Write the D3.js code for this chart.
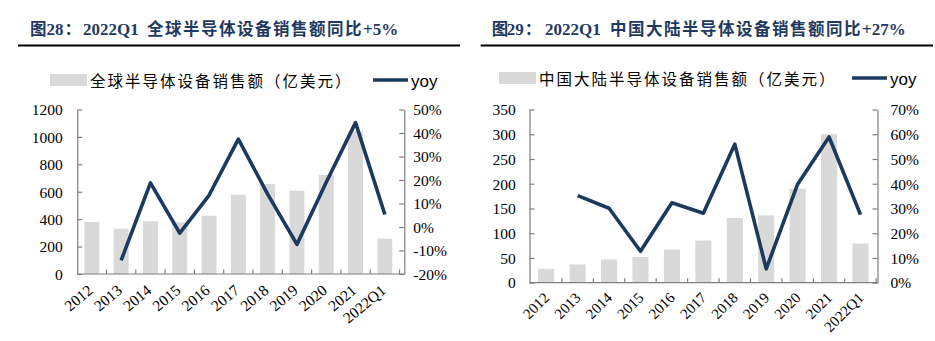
<!DOCTYPE html>
<html>
<head>
<meta charset="utf-8">
<script src="https://cdn.jsdelivr.net/npm/d3@7/dist/d3.min.js"></script>
<style>
  html, body { margin: 0; padding: 0; background: #fff; }
  svg { display: block; }
</style>
</head>
<body>
<svg id="chart" width="935" height="341"></svg>
<script>
// ---------- data ----------
const categories = ["2012","2013","2014","2015","2016","2017","2018","2019","2020","2021","2022Q1"];

const globalSales = [380, 330, 385, 378, 425, 578, 657, 608, 722, 1040, 258];
const globalYoy   = [null, -14.2, 18.8, -2.6, 13.5, 37.4, 14.0, -7.4, 19.0, 44.4, 5.3];

const chinaSales  = [28, 37, 47, 52, 67, 85, 131, 136, 190, 300, 79];
const chinaYoy    = [null, 35.2, 30.1, 12.7, 32.3, 28.1, 56.0, 5.6, 39.8, 58.9, 27.5];

const globalLeftTicks  = [0, 200, 400, 600, 800, 1000, 1200];
const globalRightTicks = [-20, -10, 0, 10, 20, 30, 40, 50];
const chinaLeftTicks   = [0, 50, 100, 150, 200, 250, 300, 350];
const chinaRightTicks  = [0, 10, 20, 30, 40, 50, 60, 70];

const title1 = { fig: "图", num: "28", colon: "：", period: "2022Q1", cjk: "全球半导体设备销售额同比", tail: "+5%" };
const title2 = { fig: "图", num: "29", colon: "：", period: "2022Q1", cjk: "中国大陆半导体设备销售额同比", tail: "+27%" };
const legendBar1 = "全球半导体设备销售额（亿美元）";
const legendBar2 = "中国大陆半导体设备销售额（亿美元）";
const legendLine = "yoy";

// ---------- style ----------
const BAR = "#d9d9d9";
const LINE = "#1c3a5e";
const TITLE = "#1f3a60";
const AXIS = "#7f7f7f";
const SERIF = "'Liberation Serif', 'Times New Roman', serif";
const CJK = "'Noto Sans CJK SC', sans-serif";

const svg = d3.select("#chart");

function drawPanel(cfg) {
  const g = svg.append("g");

  // title
  const t = g.append("text")
    .attr("y", cfg.titleY)
    .attr("fill", TITLE)
    .attr("font-weight", "bold");
  t.append("tspan").attr("x", cfg.titleX).attr("font-family", CJK).attr("font-size", 16.5).text(cfg.title.fig);
  t.append("tspan").attr("x", cfg.titleX + cfg.titleOff[0]).attr("font-family", SERIF).attr("font-size", 17).text(cfg.title.num);
  t.append("tspan").attr("x", cfg.titleX + cfg.titleOff[0] + 18).attr("font-family", CJK).attr("font-size", 16.5).text(cfg.title.colon);
  t.append("tspan").attr("x", cfg.titleX + cfg.titleOff[1]).attr("font-family", SERIF).attr("font-size", 17).text(cfg.title.period);
  t.append("tspan").attr("x", cfg.titleX + cfg.titleOff[2]).attr("font-family", CJK).attr("font-size", 16.5)
    .attr("letter-spacing", 1.5).text(cfg.title.cjk);
  t.append("tspan").attr("font-family", SERIF).attr("font-size", 17).attr("letter-spacing", 0).text(cfg.title.tail);

  // underline
  g.append("line")
    .attr("x1", cfg.ruleX[0]).attr("x2", cfg.ruleX[1])
    .attr("y1", cfg.ruleY).attr("y2", cfg.ruleY)
    .attr("stroke", "#000").attr("stroke-width", 2);

  // legend
  g.append("rect")
    .attr("x", cfg.legX).attr("y", cfg.legY - 6)
    .attr("width", 37).attr("height", 12)
    .attr("fill", BAR);
  g.append("text")
    .attr("x", cfg.legX + 40).attr("y", cfg.legY + 6.5)
    .attr("font-family", CJK).attr("font-size", 15.5).attr("letter-spacing", 2)
    .attr("fill", "#000")
    .text(cfg.legendBar);
  g.append("line")
    .attr("x1", cfg.legLineX).attr("x2", cfg.legLineX + 35)
    .attr("y1", cfg.legY).attr("y2", cfg.legY)
    .attr("stroke", LINE).attr("stroke-width", 3.5);
  g.append("text")
    .attr("x", cfg.legLineX + 38).attr("y", cfg.legY + 7)
    .attr("font-family", "'Liberation Sans', Arial, sans-serif").attr("font-size", 17)
    .attr("fill", "#000")
    .text(legendLine);

  // scales
  const x = d3.scaleBand().domain(categories).range(cfg.bandRange).padding(0);
  const y = d3.scaleLinear().domain(cfg.yDomain).range([cfg.bottom, cfg.top]);
  const y2 = d3.scaleLinear().domain(cfg.y2Domain).range([cfg.bottom, cfg.top]);
  const bw = x.bandwidth();

  // bars
  g.append("g").selectAll("rect")
    .data(categories)
    .join("rect")
    .attr("x", (d) => x(d) + bw * 0.245)
    .attr("width", bw * 0.51)
    .attr("y", (d, i) => y(cfg.sales[i]))
    .attr("height", (d, i) => y(0) - y(cfg.sales[i]))
    .attr("fill", BAR);

  // axes
  const left = g.append("g")
    .attr("transform", `translate(${cfg.leftX},0)`)
    .call(d3.axisLeft(y).tickValues(cfg.leftTicks).tickSizeInner(-5).tickSizeOuter(0)
      .tickPadding(cfg.leftPad).tickFormat(d3.format("d")));
  const right = g.append("g")
    .attr("transform", `translate(${cfg.rightX},0)`)
    .call(d3.axisRight(y2).tickValues(cfg.rightTicks).tickSizeInner(-5).tickSizeOuter(0)
      .tickPadding(cfg.rightPad).tickFormat((d) => d + "%"));
  [left, right].forEach((a) => {
    a.select(".domain").attr("stroke", AXIS).attr("stroke-width", 1.2);
    a.selectAll(".tick line").attr("stroke", AXIS).attr("stroke-width", 1.2);
    a.selectAll(".tick text")
      .attr("font-family", SERIF).attr("font-size", 15.5).attr("fill", "#000")
      .attr("dy", "0.34em");
  });

  // x axis line and inward ticks at band boundaries
  g.append("line")
    .attr("x1", cfg.leftX).attr("x2", cfg.rightX)
    .attr("y1", y(cfg.yDomain[0])).attr("y2", y(cfg.yDomain[0]))
    .attr("stroke", AXIS).attr("stroke-width", 1.2);
  g.append("g").selectAll("line")
    .data(categories.slice(1).concat(["__end"]))
    .join("line")
    .attr("x1", (d) => d === "__end" ? cfg.bandRange[1] : x(d))
    .attr("x2", (d) => d === "__end" ? cfg.bandRange[1] : x(d))
    .attr("y1", y(cfg.yDomain[0])).attr("y2", y(cfg.yDomain[0]) - 4.5)
    .attr("stroke", AXIS).attr("stroke-width", 1.2);

  // x labels
  g.append("g").selectAll("text")
    .data(categories)
    .join("text")
    .attr("transform", (d) => `translate(${x(d) + bw / 2 + cfg.labDx},${cfg.bottom + cfg.labDy}) rotate(${cfg.labRot})`)
    .attr("text-anchor", "end")
    .attr("font-family", SERIF).attr("font-size", cfg.labSize).attr("fill", "#000")
    .text((d) => d);

  // yoy line
  const line = d3.line()
    .defined((d) => d != null)
    .x((d, i) => x(categories[i]) + bw / 2)
    .y((d) => y2(d));
  g.append("path")
    .datum(cfg.yoy)
    .attr("d", line)
    .attr("fill", "none")
    .attr("stroke", LINE)
    .attr("stroke-width", 3.6)
    .attr("stroke-linejoin", "round")
    .attr("stroke-linecap", "butt");
}

drawPanel({
  title: title1, titleX: 30, titleY: 35, titleOff: [16.5, 53, 117],
  ruleX: [18, 460], ruleY: 45.5,
  legendBar: legendBar1, legX: 50, legY: 80, legLineX: 373,
  sales: globalSales, yoy: globalYoy,
  yDomain: [0, 1200], y2Domain: [-20, 50],
  leftTicks: globalLeftTicks, rightTicks: globalRightTicks,
  top: 109.5, bottom: 274,
  leftX: 77.3, rightX: 404.3, bandRange: [77.2, 399.5],
  leftPad: 14.5, rightPad: 9,
  labDx: 2, labDy: 18, labRot: -40, labSize: 15.5
});

drawPanel({
  title: title2, titleX: 491.7, titleY: 35, titleOff: [15, 53.3, 118.3],
  ruleX: [480.7, 933], ruleY: 45.5,
  legendBar: legendBar2, legX: 499, legY: 78, legLineX: 852,
  sales: chinaSales, yoy: chinaYoy,
  yDomain: [0, 350], y2Domain: [0, 70],
  leftTicks: chinaLeftTicks, rightTicks: chinaRightTicks,
  top: 109.5, bottom: 282.7,
  leftX: 529.5, rightX: 877.5, bandRange: [530.5, 876.2],
  leftPad: 13.8, rightPad: 13,
  labDx: 4, labDy: 16, labRot: -45, labSize: 15
});
</script>
</body>
</html>
